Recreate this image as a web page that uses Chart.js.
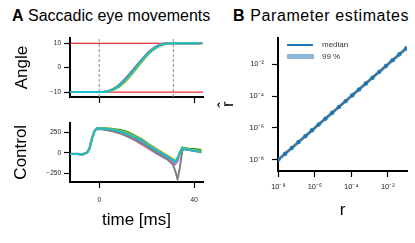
<!DOCTYPE html>
<html>
<head>
<meta charset="utf-8">
<script src="https://cdn.jsdelivr.net/npm/chart.js@4.4.1/dist/chart.umd.min.js"></script>
<style>
  html, body { margin: 0; padding: 0; background: #fff; }
  body { width: 415px; height: 243px; position: relative; overflow: hidden;
         font-family: "Liberation Sans", Arial, sans-serif; color: #000; }
  canvas { position: absolute; }
  .panel-title { position: absolute; top: 6px; font-size: 16px; line-height: 19px; white-space: nowrap; }
  .legend-text { position: absolute; font-size: 8px; line-height: 10px; color: #333; }
  .swatch { position: absolute; }
</style>
</head>
<body>
<div class="panel-title" style="left:12px"><b>A</b> Saccadic eye movements</div>
<div class="panel-title" style="left:233px;letter-spacing:0.6px"><b>B</b> Parameter estimates</div>

<canvas id="angleChart" width="210" height="76" style="left:0;top:30px"></canvas>
<canvas id="controlChart" width="210" height="130" style="left:0;top:110px"></canvas>
<canvas id="paramChart" width="210" height="205" style="left:205px;top:25px"></canvas>

<div class="swatch" style="left:287px;top:44px;width:26px;height:2px;background:#1f77b4"></div>
<div class="legend-text" style="left:322px;top:40px">median</div>
<div class="swatch" style="left:287px;top:54px;width:27px;height:5px;background:#8fb9da"></div>
<div class="legend-text" style="left:322px;top:52px">99 %</div>

<script>
const FONT = '"Liberation Sans", Arial, sans-serif';

// ---- Panel A: eye angle trajectories ----
const angleTime = [-12, -8, -4, 0, 2, 4, 6, 8, 10, 12, 14, 16, 18, 20, 22, 24, 26, 28, 30, 32, 36, 40, 43];
const angleOrange = [-10, -10, -10, -10, -9.96, -9.7, -8.95, -7.85, -6.2, -4.2, -1.9, 0.5, 2.9, 5.1, 6.9, 8.35, 9.25, 9.8, 10, 10, 10, 10, 10];
const angleGreen  = [-10, -10, -10, -10, -9.97, -9.7, -9.0, -8.0, -6.5, -4.5, -2.2, 0.2, 2.6, 4.9, 6.8, 8.2, 9.2, 9.75, 10, 10, 10, 10, 10];
const anglePurple = [-10, -10, -10, -10, -9.95, -9.65, -8.9, -7.75, -6.05, -4.0, -1.7, 0.7, 3.1, 5.3, 7.1, 8.5, 9.35, 9.8, 10, 10, 10, 10, 10];
const anglePink   = [-10, -10, -10, -10, -9.95, -9.6, -8.85, -7.7, -6.0, -3.9, -1.5, 0.9, 3.3, 5.5, 7.4, 8.8, 9.6, 9.95, 10, 10, 10, 10, 10];
const angleGray   = [-10, -10, -10, -10, -9.9, -9.5, -8.6, -7.3, -5.5, -3.4, -1.1, 1.2, 3.5, 5.6, 7.3, 8.6, 9.4, 9.85, 10, 10, 10, 10, 10];
const angleOlive  = [-10, -10, -10, -10, -9.97, -9.75, -9.1, -8.1, -6.6, -4.7, -2.4, 0.0, 2.4, 4.7, 6.6, 8.1, 9.1, 9.7, 9.95, 10, 10, 10, 10];
const angleCyan   = [-10, -10, -10, -10, -9.95, -9.65, -8.9, -7.8, -6.1, -4.1, -1.8, 0.6, 3.0, 5.2, 7.0, 8.4, 9.3, 9.8, 10, 10, 10, 10, 10];
const targetAngles = [10, -10];
const saccadeMarks = [0, 31.2];

// ---- Panel A: control signal ----
const controlTime = [-12, -9, -7, -5, -4, -3, -2, -1, 0, 3, 6, 9, 12, 15, 18, 21, 24, 27, 29, 31, 32, 33, 34, 35, 36, 38, 40, 43];
const controlOrange = [-12, -12, -19, 6, 62, 181, 264, 298, 301, 295, 281, 260, 228, 188, 146, 85, 30, -20, -55, -95, -120, -85, 5, 62, 55, 45, 40, 20];
const controlGreen  = [-12, -12, -19, 6, 62, 182, 266, 300, 305, 302, 294, 280, 256, 212, 165, 105, 50, -5, -40, -78, -105, -75, 5, 60, 58, 52, 48, 35];
const controlPurple = [-12, -12, -19, 6, 62, 181, 264, 298, 300, 293, 278, 258, 224, 182, 138, 78, 22, -30, -65, -115, -140, -100, 0, 55, 45, 35, 25, 8];
const controlPink   = [-12, -12, -18, 8, 65, 182, 262, 296, 300, 290, 272, 246, 205, 155, 102, 48, -5, -50, -78, -105, -125, -90, 0, 55, 45, 35, 30, 15];
const controlGray   = [-10, -10, -15, 10, 70, 185, 262, 290, 292, 280, 262, 238, 200, 160, 115, 58, 2, -50, -85, -140, -220, -320, -170, 30, 55, 40, 30, 10];
const controlOlive  = [-12, -12, -19, 6, 62, 181, 264, 298, 302, 298, 287, 270, 240, 200, 158, 98, 48, -2, -38, -72, -100, -70, 15, 70, 50, 40, 35, 15];
const controlCyan   = [-12, -12, -20, 5, 60, 180, 265, 300, 302, 296, 282, 262, 230, 190, 150, 88, 35, -15, -50, -85, -110, -60, 10, 65, 45, 35, 30, 10];

const timeTicks = [0, 40];
const angleTicks = [-10, 0, 10];
const angleTickLabels = ['\u221210', '0', '10'];
const controlTicks = [-250, 0, 250];
const controlTickLabels = ['\u2212250', '0', '250'];

// ---- Panel B: true vs estimated r ----
const trueR   = [1e-8, 2.34e-8, 5.46e-8, 1.27e-7, 2.98e-7, 6.95e-7, 1.62e-6, 3.79e-6, 8.86e-6, 2.07e-5, 4.83e-5, 1.13e-4, 2.64e-4, 6.16e-4, 1.44e-3, 3.36e-3, 7.85e-3, 1.83e-2, 4.28e-2, 1e-1];
const medianR = [1e-8, 2.34e-8, 5.46e-8, 1.27e-7, 2.98e-7, 6.95e-7, 1.62e-6, 3.79e-6, 8.86e-6, 2.07e-5, 4.83e-5, 1.13e-4, 2.64e-4, 6.16e-4, 1.44e-3, 3.36e-3, 7.85e-3, 1.83e-2, 4.28e-2, 1e-1];
const lowR    = [8.5e-9, 2.0e-8, 4.6e-8, 1.08e-7, 2.5e-7, 5.9e-7, 1.38e-6, 3.2e-6, 7.5e-6, 1.76e-5, 4.1e-5, 9.6e-5, 2.24e-4, 5.2e-4, 1.22e-3, 2.86e-3, 6.7e-3, 1.56e-2, 3.64e-2, 8.5e-2];
const highR   = [1.18e-8, 2.76e-8, 6.45e-8, 1.5e-7, 3.5e-7, 8.2e-7, 1.91e-6, 4.47e-6, 1.05e-5, 2.44e-5, 5.7e-5, 1.33e-4, 3.1e-4, 7.3e-4, 1.7e-3, 3.97e-3, 9.3e-3, 2.16e-2, 5.05e-2, 1.18e-1];
const logTickValues = [1e-8, 1e-6, 1e-4, 1e-2];
const logTickLabels = ['10\u207B\u2078', '10\u207B\u2076', '10\u207B\u2074', '10\u207B\u00B2'];

const TAB = {
  orange: '#ff7f0e', green: '#2ca02c', purple: '#9467bd', pink: '#e377c2',
  gray: '#7f7f7f', olive: '#bcbd22', cyan: '#17becf', blue: '#1f77b4'
};

Chart.defaults.font.family = FONT;

function pairs(xs, ys) {
  return xs.map((x, i) => ({ x, y: ys[i] }));
}

function trace(xs, ys, color) {
  return {
    data: pairs(xs, ys),
    borderColor: color,
    borderWidth: 2,
    pointRadius: 0,
    fill: false
  };
}

function axis(cfg) {
  return {
    type: cfg.type || 'linear',
    min: cfg.min,
    max: cfg.max,
    border: { display: true, color: '#000', width: 2 },
    grid: { drawOnChartArea: false, drawTicks: true, tickLength: cfg.tickLength || 6, tickWidth: 1.2, tickColor: '#000' },
    afterBuildTicks: scale => { scale.ticks = cfg.ticks.map(v => ({ value: v })); },
    afterFit: scale => {
      if (cfg.width !== undefined) scale.width = cfg.width;
      if (cfg.height !== undefined) scale.height = cfg.height;
    },
    ticks: {
      display: cfg.labels !== undefined,
      autoSkip: false,
      maxRotation: 0,
      color: '#222',
      font: { size: cfg.tickSize || 6.5 },
      padding: cfg.tickPadding || 3,
      callback: (v, i) => cfg.labels ? cfg.labels[i] : ''
    },
    title: {
      display: !!cfg.title,
      text: cfg.title,
      color: '#000',
      font: { size: 17 },
      padding: cfg.titlePadding || 0
    }
  };
}

const baseOptions = {
  responsive: false,
  animation: false,
  events: [],
  plugins: { legend: { display: false }, tooltip: { enabled: false } }
};

// Angle panel
const angleSets = [
  trace(angleTime, angleOrange, TAB.orange),
  trace(angleTime, angleGreen, TAB.green),
  trace(angleTime, anglePurple, TAB.purple),
  trace(angleTime, anglePink, TAB.pink),
  trace(angleTime, angleGray, TAB.gray),
  trace(angleTime, angleOlive, TAB.olive),
  trace(angleTime, angleCyan, TAB.cyan)
].map(d => Object.assign(d, { cubicInterpolationMode: 'monotone' }));

const angleMin = -12.03, angleMax = 12.15, timeMin = -12.3, timeMax = 43.7;

const refSets = [
  { data: [{ x: timeMin, y: targetAngles[0] }, { x: timeMax, y: targetAngles[0] }], borderColor: '#d40000', borderWidth: 1.2, pointRadius: 0 },
  { data: [{ x: timeMin, y: targetAngles[1] }, { x: timeMax, y: targetAngles[1] }], borderColor: '#ff2a2a', borderWidth: 1.2, pointRadius: 0 },
  ...saccadeMarks.map(t => ({
    data: [{ x: t, y: angleMin }, { x: t, y: angleMax }],
    borderColor: '#8a8a8a', borderWidth: 1, borderDash: [3, 2], pointRadius: 0
  }))
];

new Chart(document.getElementById('angleChart'), {
  type: 'line',
  data: { datasets: angleSets.slice().reverse().concat(refSets) },
  options: Object.assign({}, baseOptions, {
    layout: { padding: { top: 8, right: 7, left: 0, bottom: 0 } },
    scales: {
      x: axis({ min: timeMin, max: timeMax, ticks: timeTicks, height: 9 }),
      y: axis({ min: angleMin, max: angleMax, ticks: angleTicks, labels: angleTickLabels, width: 70, title: 'Angle', titlePadding: { top: 11.8 } })
    }
  })
});

// Control panel
const controlSets = [
  trace(controlTime, controlOrange, TAB.orange),
  trace(controlTime, controlGreen, TAB.green),
  trace(controlTime, controlPurple, TAB.purple),
  trace(controlTime, controlPink, TAB.pink),
  trace(controlTime, controlGray, TAB.gray),
  trace(controlTime, controlOlive, TAB.olive),
  trace(controlTime, controlCyan, TAB.cyan)
];

new Chart(document.getElementById('controlChart'), {
  type: 'line',
  data: { datasets: controlSets.slice().reverse() },
  options: Object.assign({}, baseOptions, {
    layout: { padding: { top: 12.5, right: 7, left: 0, bottom: 0 } },
    scales: {
      x: axis({ min: timeMin, max: timeMax, ticks: timeTicks, labels: ['0', '40'], height: 58, tickPadding: 8,
                title: 'time [ms]', titlePadding: { bottom: 9.8 } }),
      y: axis({ min: -355, max: 372, ticks: controlTicks, labels: controlTickLabels, width: 70, title: 'Control', titlePadding: { top: 11.3 } })
    }
  })
});

// Parameter panel
new Chart(document.getElementById('paramChart'), {
  type: 'line',
  data: {
    datasets: [
      { data: pairs(trueR, medianR), borderColor: TAB.blue, borderWidth: 1.5, pointRadius: 2.2,
        pointBackgroundColor: TAB.blue, pointBorderWidth: 0, fill: false },
      { data: pairs(trueR, trueR), borderColor: 'rgba(120,120,120,0.85)', borderWidth: 3, pointRadius: 0, fill: false },
      { data: pairs(trueR, highR), borderWidth: 0, pointRadius: 0, backgroundColor: 'rgba(31,119,180,0.45)', fill: '+1' },
      { data: pairs(trueR, lowR), borderWidth: 0, pointRadius: 0, fill: false }
    ]
  },
  options: Object.assign({}, baseOptions, {
    layout: { padding: { top: 8, right: 8, left: 0, bottom: 0 } },
    scales: {
      x: axis({ type: 'logarithmic', min: 9.5e-9, max: 0.112, ticks: logTickValues, labels: logTickLabels,
                height: 59, tickPadding: 5, tickSize: 7.5, title: 'r', titlePadding: { bottom: 9.8 } }),
      y: axis({ type: 'logarithmic', min: 1.9e-9, max: 0.49, ticks: logTickValues, labels: logTickLabels,
                width: 73, tickPadding: 8, tickSize: 7.5, title: 'r\u0302', titlePadding: { top: 12.8 } })
    }
  })
});
</script>
</body>
</html>
